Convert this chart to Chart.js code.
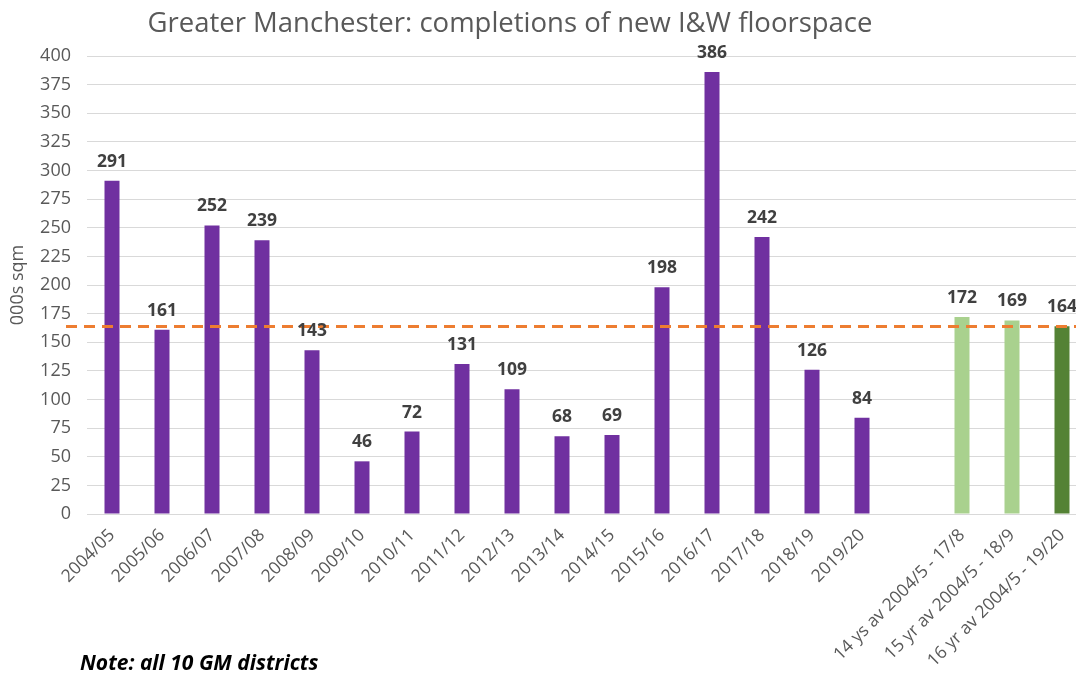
<!DOCTYPE html>
<html>
<head>
<meta charset="utf-8">
<script src="https://cdn.jsdelivr.net/npm/chart.js@4"></script>
<style>
  html, body { margin: 0; padding: 0; background: #fff; overflow: hidden; }
  #wrap { position: relative; width: 1090px; height: 677px; }
</style>
</head>
<body>
<div id="wrap"><canvas id="myChart"></canvas></div>
<script>
const categories = [
  '2004/05', '2005/06', '2006/07', '2007/08', '2008/09', '2009/10', '2010/11', '2011/12',
  '2012/13', '2013/14', '2014/15', '2015/16', '2016/17', '2017/18', '2018/19', '2019/20',
  '', '14 ys av 2004/5 - 17/8', '15 yr av 2004/5 - 18/9', '16 yr av 2004/5 - 19/20'
]
const completions = [291, 161, 252, 239, 143, 46, 72, 131, 109, 68, 69, 198, 386, 242, 126, 84, null, 172, 169, 164]
const barColours = [
  '#7030A0', '#7030A0', '#7030A0', '#7030A0', '#7030A0', '#7030A0', '#7030A0', '#7030A0',
  '#7030A0', '#7030A0', '#7030A0', '#7030A0', '#7030A0', '#7030A0', '#7030A0', '#7030A0',
  '#7030A0', '#A9D18E', '#A9D18E', '#548235'
]
const averageLine = 164
const yTicks = { min: 0, max: 400, step: 25 }

const FONT = "'Open Sans', Lato, sans-serif"

// dashed average line + value labels + title + note
const extras = {
  id: 'extras',
  afterDatasetsDraw(chart) {
    const { ctx, scales: { y } } = chart
    const meta = chart.getDatasetMeta(0)
    ctx.save()
    // average line
    const ly = Math.round(y.getPixelForValue(averageLine)) + 0.5
    ctx.strokeStyle = '#ED7D31'
    ctx.lineWidth = 3
    ctx.setLineDash([11, 7])
    ctx.beginPath()
    ctx.moveTo(66, ly)
    ctx.lineTo(chart.width, ly)
    ctx.stroke()
    ctx.setLineDash([])
    // value labels
    ctx.fillStyle = '#404040'
    ctx.font = 'bold 17.5px ' + FONT
    ctx.textAlign = 'center'
    ctx.textBaseline = 'alphabetic'
    meta.data.forEach((bar, i) => {
      const v = completions[i]
      if (v == null) return
      ctx.fillText(String(v), bar.x, bar.y - 14)
    })
    // title
    ctx.fillStyle = '#595959'
    ctx.font = '27.5px ' + FONT
    ctx.fillText('Greater Manchester: completions of new I&W floorspace', 510, 32)
    // note
    ctx.fillStyle = '#000'
    ctx.textAlign = 'left'
    ctx.font = 'italic bold 21px ' + FONT
    ctx.fillText('Note: all 10 GM districts', 80, 670)
    ctx.restore()
  }
}

const ctx = document.getElementById('myChart')
// eslint-disable-next-line no-unused-vars
const myChart = new Chart(ctx, {
  type: 'bar',
  data: {
    labels: categories,
    datasets: [{
      data: completions,
      backgroundColor: barColours,
      borderWidth: 0,
      barPercentage: 0.3,
      categoryPercentage: 1
    }]
  },
  options: {
    responsive: true,
    maintainAspectRatio: false,
    animation: false,
    layout: { padding: { top: 56, right: 3, left: 0, bottom: 0 } },
    plugins: {
      legend: { display: false },
      tooltip: { enabled: false }
    },
    scales: {
      x: {
        grid: { display: false },
        border: { color: '#D9D9D9', width: 1 },
        ticks: {
          color: '#595959',
          font: { family: FONT, size: 17.5 },
          minRotation: 45,
          maxRotation: 45,
          autoSkip: false,
          padding: 3
        },
        afterFit(scale) { scale.height = 163 }
      },
      y: {
        min: yTicks.min,
        max: yTicks.max,
        grid: { color: '#D9D9D9', drawTicks: false },
        border: { display: false },
        ticks: {
          stepSize: yTicks.step,
          color: '#595959',
          font: { family: FONT, size: 18 },
          padding: 16
        },
        title: {
          display: true,
          text: '000s sqm',
          color: '#595959',
          font: { family: FONT, size: 18 },
          padding: { top: 7, bottom: 0 }
        },
        afterFit(scale) { scale.width = 87 }
      }
    }
  },
  plugins: [extras]
})
</script>
</body>
</html>
